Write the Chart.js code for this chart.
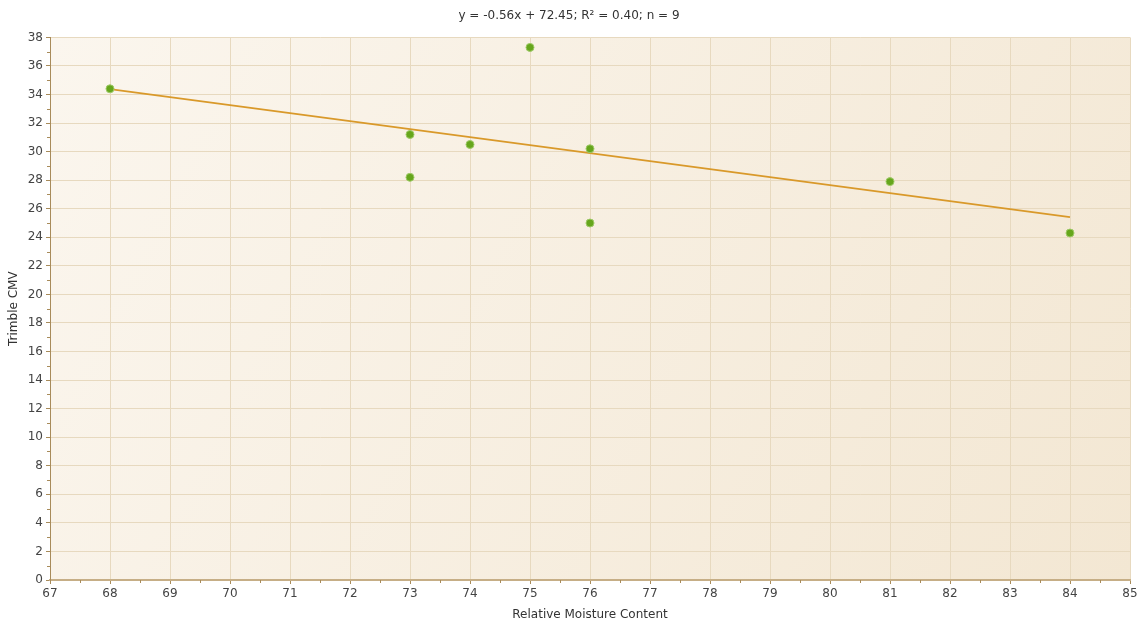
<!DOCTYPE html>
<html>
<head>
<meta charset="utf-8">
<script src="https://cdn.jsdelivr.net/npm/chart.js@4/dist/chart.umd.min.js"></script>
<style>
  html, body { margin: 0; padding: 0; background: #ffffff; }
  #wrap { width: 1138px; height: 622px; }
</style>
</head>
<body>
<div id="wrap"><canvas id="c" width="1138" height="622"></canvas></div>
<script>
// Relative moisture content vs. Trimble CMV samples
const moisture = [68, 73, 73, 74, 75, 76, 76, 81, 84];
const cmv      = [34.4, 31.2, 28.2, 30.5, 37.3, 30.2, 25.0, 27.9, 24.3];

// Least-squares fit as printed in the heading
const slope = -0.56;
const intercept = 72.45;
const r2 = 0.40;
const fitX = [68, 84];

const headingText = `y = ${slope.toFixed(2)}x + ${intercept.toFixed(2)}; R\u00B2 = ${r2.toFixed(2)}; n = ${moisture.length}`;

const FONT = 'DejaVu Sans';
const axisColor = '#a88b5a';
const gridColor = '#e7d9bf';

const points = moisture.map((x, i) => ({ x, y: cmv[i] }));
const fitLine = fitX.map(x => ({ x, y: slope * x + intercept }));

// Warm gradient behind the plot area
const plotBackground = {
  id: 'plotBackground',
  beforeDraw(chart) {
    const { ctx, chartArea: a } = chart;
    const g = ctx.createLinearGradient(a.left, a.top, a.right, a.bottom);
    g.addColorStop(0, '#fbf6ee');
    g.addColorStop(1, '#f3e7d3');
    ctx.save();
    ctx.fillStyle = g;
    ctx.fillRect(a.left, a.top, a.right - a.left, a.bottom - a.top);
    ctx.restore();
  }
};

// Small minor ticks halfway between the labelled ones
const minorTicks = {
  id: 'minorTicks',
  afterDraw(chart) {
    const { ctx, chartArea: a, scales } = chart;
    ctx.save();
    ctx.strokeStyle = axisColor;
    ctx.lineWidth = 1;
    ctx.beginPath();
    for (let v = 1; v < 38; v += 2) {
      const y = Math.round(scales.y.getPixelForValue(v)) + 0.5;
      ctx.moveTo(a.left - 3, y);
      ctx.lineTo(a.left, y);
    }
    for (let v = 67.5; v < 85; v += 1) {
      const x = Math.round(scales.x.getPixelForValue(v)) + 0.5;
      ctx.moveTo(x, a.bottom);
      ctx.lineTo(x, a.bottom + 3);
    }
    ctx.stroke();
    ctx.restore();
  }
};

new Chart(document.getElementById('c'), {
  type: 'scatter',
  data: {
    datasets: [
      {
        type: 'line',
        label: 'Trend',
        data: fitLine,
        borderColor: '#d9992a',
        borderWidth: 1.8,
        pointRadius: 0,
        fill: false,
        order: 2
      },
      {
        label: 'Samples',
        data: points,
        backgroundColor: '#66a61c',
        borderColor: '#9fca68',
        borderWidth: 1,
        pointRadius: 4,
        pointHoverRadius: 4,
        order: 1
      }
    ]
  },
  options: {
    responsive: false,
    animation: false,
    events: [],
    layout: { padding: { left: 0, right: 0, top: 0, bottom: 0 } },
    plugins: {
      legend: { display: false },
      tooltip: { enabled: false },
      title: {
        display: true,
        text: headingText,
        color: '#333333',
        font: { family: FONT, size: 12, weight: 'normal' },
        padding: { top: 9, bottom: 14 }
      }
    },
    scales: {
      x: {
        type: 'linear',
        min: 67,
        max: 85,
        ticks: { stepSize: 1, color: '#444444', font: { family: FONT, size: 12 }, padding: 3 },
        grid: { color: gridColor, tickColor: axisColor, tickLength: 4, lineWidth: 1 },
        border: { color: '#c6ae86', width: 2 },
        title: {
          display: true,
          text: 'Relative Moisture Content',
          color: '#333333',
          font: { family: FONT, size: 12 },
          padding: { top: 4, bottom: 0 }
        },
        afterFit(scale) {
          scale.height = 42;
          scale.paddingRight = 8;
        }
      },
      y: {
        type: 'linear',
        min: 0,
        max: 38,
        ticks: { stepSize: 2, color: '#444444', font: { family: FONT, size: 12 }, padding: 3 },
        grid: { color: gridColor, tickColor: axisColor, tickLength: 4, lineWidth: 1 },
        border: { color: axisColor, width: 1 },
        title: {
          display: true,
          text: 'Trimble CMV',
          color: '#333333',
          font: { family: FONT, size: 12 },
          padding: { top: 7, bottom: 4 }
        },
        afterFit(scale) { scale.width = 50; }
      }
    }
  },
  plugins: [plotBackground, minorTicks]
});
</script>
</body>
</html>
